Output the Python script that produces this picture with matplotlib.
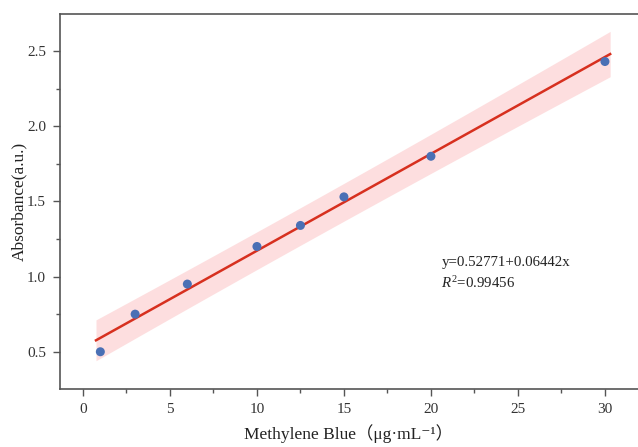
import numpy as np
import matplotlib
matplotlib.use("Agg")
import matplotlib.pyplot as plt
from matplotlib.ticker import MultipleLocator

# concentration (ug/mL) and absorbance
conc = [1, 3, 6, 10, 12.5, 15, 20, 30]
absorb = [0.50, 0.75, 0.95, 1.20, 1.34, 1.53, 1.80, 2.43]

# fit reported on the chart
intercept = 0.52771
slope = 0.06442
r2 = 0.99456

plt.rcParams['font.family'] = ['Liberation Serif', 'Noto Sans CJK SC', 'DejaVu Serif']
plt.rcParams['mathtext.fontset'] = 'custom'
plt.rcParams['mathtext.rm'] = 'Liberation Serif'
plt.rcParams['mathtext.it'] = 'Liberation Serif:italic'

x = np.array(conc)
y = np.array(absorb)
n = len(x)

# 95% prediction band around the fitted line
xf = np.linspace(0.75, 30.3, 200)
yf = intercept + slope * xf
resid = y - (intercept + slope * x)
s = np.sqrt(np.sum(resid ** 2) / (n - 2))
t = 2.447
sxx = np.sum((x - x.mean()) ** 2)
half = t * s * np.sqrt(1 + 1 / n + (xf - x.mean()) ** 2 / sxx)

fig = plt.figure(figsize=(6.38, 4.47), dpi=100)
ax = fig.add_axes([0.094, 0.130, 0.906, 0.839])

ax.fill_between(xf, yf - half, yf + half, color='#fdd9da', alpha=0.85, lw=0)
ax.plot(xf, yf, color='#d7301f', lw=1.8, zorder=3)
ax.scatter(x, y, s=42, color='#4a70b5', zorder=4, edgecolors='none')

ax.set_xlim(-1.32, 31.9)
ax.set_ylim(0.253, 2.747)
ax.xaxis.set_major_locator(MultipleLocator(5))
ax.xaxis.set_minor_locator(MultipleLocator(2.5))
ax.yaxis.set_major_locator(MultipleLocator(0.5))
ax.yaxis.set_minor_locator(MultipleLocator(0.25))
ax.set_yticks([0.5, 1.0, 1.5, 2.0, 2.5])
ax.set_yticklabels(['0.5', '1.0', '1.5', '2.0', '2.5'])

for sp in ['left', 'bottom', 'top']:
    ax.spines[sp].set_color('#555555')
    ax.spines[sp].set_linewidth(1.2)
ax.spines['right'].set_visible(False)

ax.tick_params(which='major', direction='out', length=5, width=1, color='#555555',
               labelsize=11, labelcolor='#333333', top=False, right=False, pad=5)
ax.tick_params(which='minor', direction='out', length=3, width=1, color='#555555',
               top=False, right=False)

ax.set_xlabel('Methylene Blue（μg·mL⁻¹）', fontsize=12.5, color='#222222', labelpad=6)
ax.set_ylabel('Absorbance(a.u.)', fontsize=12.5, color='#222222', labelpad=0)

ax.text(20.6, 1.093, 'y=0.52771+0.06442x', fontsize=10.7, color='#222222', va='center')
ax.text(20.6, 0.96, '$R^2$=%.5f' % r2, fontsize=10.7, color='#222222', va='center')

fig.savefig('out.png', dpi=100)
